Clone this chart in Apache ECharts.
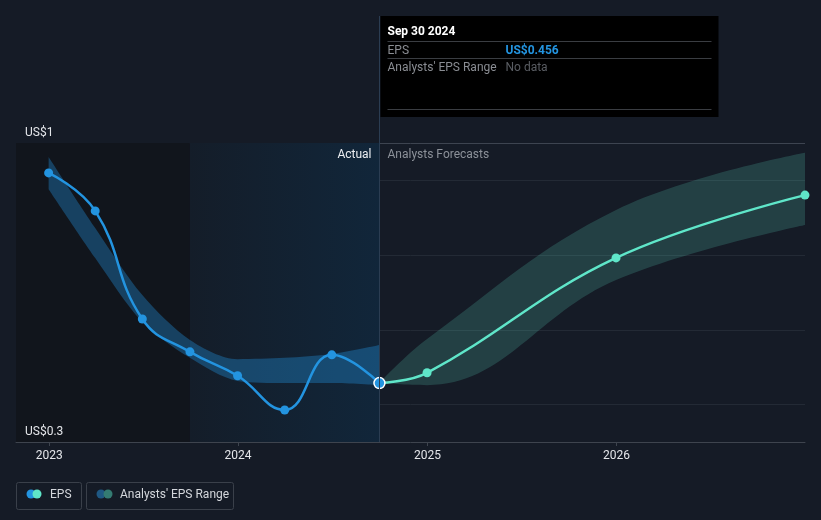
<!DOCTYPE html>
<html>
<head>
<meta charset="utf-8">
<script src="https://cdn.jsdelivr.net/npm/echarts@6/dist/echarts.min.js"></script>
<style>
html, body { margin: 0; padding: 0; background: #151b26; }
#eps-chart { width: 821px; height: 520px; }
</style>
</head>
<body>
<div id="eps-chart"></div>
<script>
// data
const yTicks = [0.3, 1];
const actualDates = ['2022-12-31', '2023-03-31', '2023-06-30', '2023-09-30', '2023-12-31', '2024-03-31', '2024-06-30', '2024-09-30'];
const actualEps = [0.930, 0.841, 0.588, 0.511, 0.455, 0.375, 0.504, 0.438];
const pastRangeLow = [0.892, 0.731, 0.581, 0.497, 0.443, 0.438, 0.438, 0.433];
const pastRangeHigh = [0.967, 0.801, 0.644, 0.539, 0.494, 0.497, 0.506, 0.527];
const forecastDates = ['2024-09-30', '2024-12-31', '2025-12-31', '2026-12-31'];
const forecastEps = [0.438, 0.462, 0.731, 0.878];
const forecastLow = [0.438, 0.433, 0.679, 0.808];
const forecastHigh = [0.438, 0.541, 0.843, 0.977];
const axisStart = '2022-10-29';
const axisEnd = '2026-12-31';
const shadeStart = '2023-09-30';
const today = '2024-09-30';

const FONT = 'Roboto, "Noto Sans", sans-serif';
const BLUE = '#2394e0';
const TEAL = '#5fe6c9';
const YEAR_MS = 365.25 * 24 * 3600 * 1000;

const pairs = (xs, ys) => xs.map((x, i) => [x, ys[i]]);
const diffs = (hi, lo) => hi.map((v, i) => +(v - lo[i]).toFixed(4));

// grid lines sit at 1/8, 3/8, 5/8, 7/8 of the range, plus a brighter top line
const gridColors = ['rgba(0,0,0,0)', '#232a35', 'rgba(0,0,0,0)', '#232a35', 'rgba(0,0,0,0)',
  '#232a35', 'rgba(0,0,0,0)', '#232a35', '#3d4450'];

const option = {
  backgroundColor: '#151b26',
  animation: false,
  grid: { left: 16, right: 16, top: 143, bottom: 78 },
  xAxis: {
    type: 'time',
    min: axisStart,
    max: axisEnd,
    minInterval: YEAR_MS,
    maxInterval: YEAR_MS,
    axisLine: { lineStyle: { color: '#3e444e', width: 1 } },
    axisTick: { show: true, length: 4, lineStyle: { color: '#3e444e' } },
    axisLabel: {
      formatter: '{yyyy}',
      showMinLabel: false,
      showMaxLabel: false,
      color: '#e4e6ea',
      fontSize: 12,
      fontFamily: FONT,
      margin: 8
    },
    splitLine: { show: false }
  },
  yAxis: {
    type: 'value',
    min: 0.3,
    max: 1,
    interval: 0.0875,
    axisLine: { show: false },
    axisTick: { show: false },
    axisLabel: { show: false },
    splitLine: { show: true, lineStyle: { color: gridColors, width: 1 } }
  },
  series: [
    {
      // background shading: past period and the last 12 months
      type: 'line',
      data: [],
      silent: true,
      z: 0,
      markArea: {
        silent: true,
        data: [
          [{ xAxis: axisStart, itemStyle: { color: '#11151c' } }, { xAxis: shadeStart }],
          [{
            xAxis: shadeStart,
            itemStyle: {
              color: {
                type: 'linear', x: 0, y: 0, x2: 1, y2: 0,
                colorStops: [
                  { offset: 0, color: '#141d29' },
                  { offset: 1, color: '#11263a' }
                ]
              }
            }
          }, { xAxis: today }]
        ]
      },
      markLine: {
        silent: true,
        symbol: 'none',
        label: { show: false },
        lineStyle: { color: '#2b3d52', type: 'solid', width: 1 },
        data: [{ xAxis: today }]
      }
    },
    {
      name: 'pastLow',
      type: 'line',
      stack: 'past',
      smooth: 0.3,
      symbol: 'none',
      silent: true,
      lineStyle: { opacity: 0 },
      data: pairs(actualDates, pastRangeLow),
      z: 1
    },
    {
      name: 'pastBand',
      type: 'line',
      stack: 'past',
      smooth: 0.3,
      symbol: 'none',
      silent: true,
      lineStyle: { opacity: 0 },
      areaStyle: { color: 'rgba(35,148,224,0.5)' },
      data: pairs(actualDates, diffs(pastRangeHigh, pastRangeLow)),
      z: 1
    },
    {
      name: 'fcLow',
      type: 'line',
      stack: 'fc',
      smooth: 0.4,
      symbol: 'none',
      silent: true,
      lineStyle: { opacity: 0 },
      data: pairs(forecastDates, forecastLow),
      z: 1
    },
    {
      name: 'fcBand',
      type: 'line',
      stack: 'fc',
      smooth: 0.4,
      symbol: 'none',
      silent: true,
      lineStyle: { opacity: 0 },
      areaStyle: { color: 'rgba(95,230,201,0.27)' },
      data: pairs(forecastDates, diffs(forecastHigh, forecastLow)),
      z: 1
    },
    {
      name: 'EPS forecast',
      type: 'line',
      smooth: 0.4,
      symbol: 'circle',
      symbolSize: 9,
      showAllSymbol: true,
      lineStyle: { color: TEAL, width: 2.5 },
      itemStyle: { color: TEAL },
      data: pairs(forecastDates, forecastEps),
      z: 3
    },
    {
      name: 'EPS',
      type: 'line',
      smooth: 0.45,
      symbol: 'circle',
      symbolSize: 9,
      showAllSymbol: true,
      lineStyle: { color: BLUE, width: 2.5 },
      itemStyle: { color: BLUE },
      data: pairs(actualDates, actualEps).map((p, i, arr) => i === arr.length - 1
        ? { value: p, symbolSize: 11, itemStyle: { color: BLUE, borderColor: '#ffffff', borderWidth: 1.5 } }
        : p),
      z: 4
    }
  ]
};

const chart = echarts.init(document.getElementById('eps-chart'));
chart.setOption(option);

// overlays placed from the axis scale
const divX = Math.round(chart.convertToPixel({ xAxisIndex: 0 }, echarts.time.parse(today))) + 0.5;
const boxX = divX + 1;
const gridLeft = 16;
const txt = (x, y, s, color, extra) => ({
  type: 'text', x: x, y: y + 1, z: 100,
  style: Object.assign({ text: s, fill: color, font: '12px ' + FONT, align: 'left', verticalAlign: 'middle' }, extra || {})
});
const sep = (x1, x2, y) => ({
  type: 'line', z: 100, shape: { x1: x1, y1: y + 0.5, x2: x2, y2: y + 0.5 },
  style: { stroke: '#3a3d42', lineWidth: 1 }
});
const legendDot = (x, y, color) => ({ type: 'circle', z: 100, shape: { cx: x, cy: y, r: 4.5 }, style: { fill: color } });

const yLabels = yTicks.map(v => txt(gridLeft + 9,
  chart.convertToPixel({ yAxisIndex: 0 }, v) - 11.5, 'US$' + v, '#e4e6ea'));

chart.setOption({
  graphic: yLabels.concat([
    { type: 'line', shape: { x1: divX, y1: 16, x2: divX, y2: 143 }, style: { stroke: '#2b3d52', lineWidth: 1 } },
    txt(divX - 8, 154, 'Actual', '#eceef1', { align: 'right' }),
    txt(divX + 8, 154, 'Analysts Forecasts', '#8c9199'),
    // tooltip panel
    { type: 'rect', z: 99, shape: { x: boxX, y: 16, width: 338, height: 101 }, style: { fill: '#000000' } },
    txt(boxX + 7, 31, 'Sep 30 ' + today.slice(0, 4), '#ffffff', { font: 'bold 12px ' + FONT }),
    sep(boxX + 7, boxX + 331, 41),
    txt(boxX + 7, 49.5, 'EPS', '#8a8d93'),
    txt(boxX + 125, 49.5, 'US$0.456', BLUE, { font: 'bold 12px ' + FONT }),
    sep(boxX + 7, boxX + 331, 58),
    txt(boxX + 7, 66.5, "Analysts' EPS Range", '#8a8d93'),
    txt(boxX + 125, 66.5, 'No data', '#5a5d63'),
    sep(boxX + 7, boxX + 331, 109),
    // legend
    { type: 'rect', shape: { x: 16.5, y: 482.5, width: 65, height: 27, r: 2 }, style: { fill: 'none', stroke: '#3a404a', lineWidth: 1 } },
    legendDot(31, 494, BLUE),
    legendDot(37, 494, TEAL),
    txt(50, 494, 'EPS', '#d4d7dc'),
    { type: 'rect', shape: { x: 86.5, y: 482.5, width: 147, height: 27, r: 2 }, style: { fill: 'none', stroke: '#3a404a', lineWidth: 1 } },
    legendDot(101, 494, '#1f5883'),
    legendDot(108, 494, '#347b72'),
    txt(120, 494, "Analysts' EPS Range", '#d4d7dc')
  ])
});
</script>
</body>
</html>
